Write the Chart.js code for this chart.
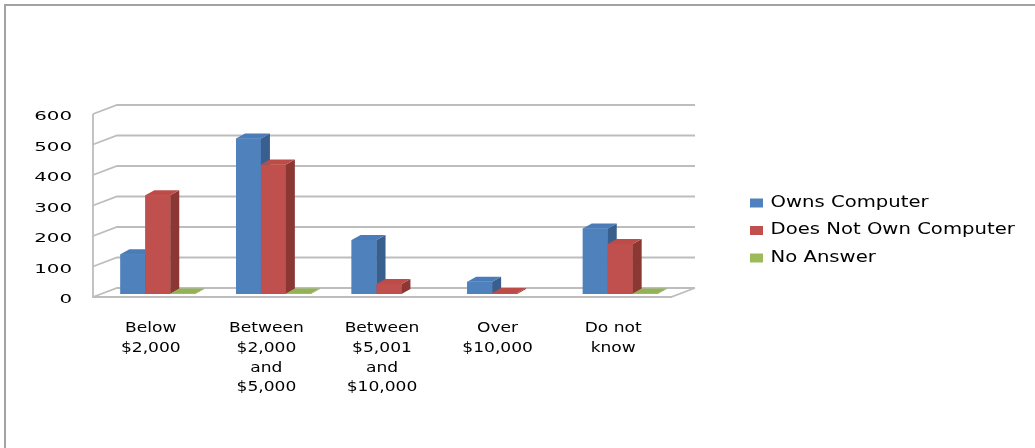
<!DOCTYPE html>
<html><head><meta charset="utf-8">
<script src="https://cdn.jsdelivr.net/npm/chart.js@4.4.1/dist/chart.umd.min.js"></script>
<style>html,body{margin:0;padding:0;background:#fff;overflow:hidden}</style>
</head><body>
<canvas id="c" width="1035" height="448"></canvas>
<script>
const categories = [["Below","$2,000"],["Between","$2,000","and","$5,000"],["Between","$5,001","and","$10,000"],["Over","$10,000"],["Do not","know"]];
const seriesNames = ["Owns Computer","Does Not Own Computer","No Answer"];
const ownsComputer = [130, 510, 177, 40, 215];
const doesNotOwnComputer = [324, 425, 33, 3, 164];
const noAnswer = [2, 2, 0, 0, 2];
const yTickValues = [0, 100, 200, 300, 400, 500, 600];

const frontColors = ["#4F81BD", "#C0504D", "#9BBB59"];
const sideColors  = ["#385F8E", "#8B3835", "#718A40"];
const topColors   = ["#4A7CB9", "#BD4C49", "#93B254"];

const canvas = document.getElementById('c');
const ctx2d = canvas.getContext('2d');
// horizontally stretched text, as in the reference rendering
const stretchBySize = {12: 1.65, 14: 1.22, 15: 1.31};
const nativeFill = CanvasRenderingContext2D.prototype.fillText;
ctx2d.fillText = function(text, x, y, maxW) {
  const m = /(\d+(?:\.\d+)?)px/.exec(this.font);
  const s = (m && stretchBySize[Math.round(+m[1])]) || 1;
  this.save();
  this.translate(x, y);
  this.scale(s, 1);
  if (maxW !== undefined) nativeFill.call(this, text, 0, 0, maxW / s);
  else nativeFill.call(this, text, 0, 0);
  this.restore();
};

const WALL = {dx: 24, dy: -9};
const BAR3D = {dx: 9, dy: -5};
const BAR_SHIFT = {dx: 7, dy: -3};

const threeD = {
  id: 'threeD',
  afterLayout(chart) {
    const lg = chart.legend;
    lg.left = 737.5; lg.top = 183; lg.right = 1035; lg.bottom = 320;
    lg.width = lg.right - lg.left; lg.height = lg.bottom - lg.top;
  },
  beforeDraw(chart) {
    const c = chart.ctx;
    c.save();
    c.strokeStyle = '#A3A3A3'; c.lineWidth = 2;
    c.beginPath(); c.moveTo(5, 448); c.lineTo(5, 5); c.lineTo(1035, 5); c.stroke();
    c.restore();
  },
  beforeDatasetsDraw(chart) {
    const c = chart.ctx, a = chart.chartArea, ys = chart.scales.y;
    c.save();
    c.strokeStyle = '#BDBDBD'; c.lineWidth = 1.8;
    yTickValues.forEach(v => {
      const y = ys.getPixelForValue(v);
      c.beginPath();
      c.moveTo(a.left, y);
      c.lineTo(a.left + WALL.dx, y + WALL.dy);
      c.lineTo(a.right + WALL.dx, y + WALL.dy);
      c.stroke();
    });
    const y0 = ys.getPixelForValue(0), yTop = ys.getPixelForValue(600);
    c.beginPath(); c.moveTo(a.left, yTop); c.lineTo(a.left, y0);
    c.lineTo(a.right, y0); c.lineTo(a.right + WALL.dx, y0 + WALL.dy); c.stroke();
    c.restore();
    c.save();
    c.translate(BAR_SHIFT.dx, BAR_SHIFT.dy);
  },
  afterDatasetsDraw(chart) {
    const c = chart.ctx;
    // redraw in series order: front face, then right side and top face
    chart.data.datasets.forEach((ds, di) => {
      const meta = chart.getDatasetMeta(di);
      meta.data.forEach((bar, i) => {
        if (!ds.data[i]) return;
        bar.draw(c);
        const p = bar.getProps(['x', 'y', 'base', 'width'], true);
        const l = p.x - p.width / 2, r = p.x + p.width / 2;
        const t = Math.min(p.y, p.base), b = Math.max(p.y, p.base);
        c.fillStyle = sideColors[di];
        c.beginPath(); c.moveTo(r, t); c.lineTo(r + BAR3D.dx, t + BAR3D.dy);
        c.lineTo(r + BAR3D.dx, b + BAR3D.dy); c.lineTo(r, b); c.closePath(); c.fill();
        c.fillStyle = topColors[di];
        c.beginPath(); c.moveTo(l, t); c.lineTo(l + BAR3D.dx, t + BAR3D.dy);
        c.lineTo(r + BAR3D.dx, t + BAR3D.dy); c.lineTo(r, t); c.closePath(); c.fill();
      });
    });
    c.restore();
  }
};

const seriesValues = [ownsComputer, doesNotOwnComputer, noAnswer];
new Chart(canvas, {
  type: 'bar',
  data: {
    labels: categories,
    datasets: seriesNames.map((name, i) => ({
      label: name,
      data: seriesValues[i],
      backgroundColor: frontColors[i],
      borderWidth: 0,
      clip: false,
      barPercentage: 1,
      categoryPercentage: 0.647
    }))
  },
  options: {
    responsive: false,
    animation: false,
    events: [],
    layout: {padding: {top: 114, right: 364, left: 0, bottom: 0}},
    plugins: {
      tooltip: {enabled: false},
      legend: {
        position: 'chartArea',
        align: 'start',
        labels: {
          boxWidth: 13, boxHeight: 9, padding: 12.5,
          color: '#000',
          font: {family: 'DejaVu Sans', size: 15}
        }
      }
    },
    scales: {
      x: {
        grid: {display: false, drawTicks: false},
        border: {display: false},
        ticks: {
          color: '#000', padding: 22, maxRotation: 0, minRotation: 0, autoSkip: false,
          font: {family: 'DejaVu Sans', size: 14, lineHeight: 1.4}
        },
        afterFit(s) { s.height = 151; }
      },
      y: {
        min: 0, max: 600,
        grid: {display: false, drawTicks: false},
        border: {display: false},
        ticks: {
          stepSize: 100, color: '#000', padding: 21, labelOffset: 3,
          font: {family: 'DejaVu Sans', size: 12}
        },
        afterFit(s) { s.width = 93; }
      }
    }
  },
  plugins: [threeD]
});
</script>
</body></html>
